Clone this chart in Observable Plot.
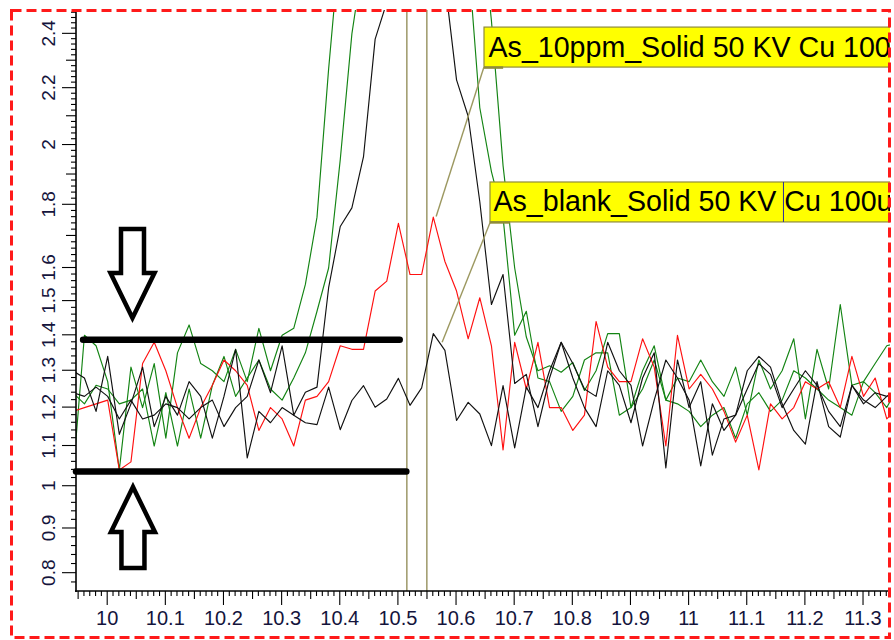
<!DOCTYPE html>
<html><head><meta charset="utf-8">
<script src="https://cdn.jsdelivr.net/npm/d3@7"></script>
<script src="https://cdn.jsdelivr.net/npm/@observablehq/plot@0.6"></script>
<style>body{margin:0;background:#fff}</style>
</head><body>
<script>
// ---- data (energy in keV, counts scale) ----
const energyKeV = [9.94,9.96,9.98,10.00,10.02,10.04,10.06,10.08,10.10,10.12,10.14,10.16,10.18,10.20,10.22,10.24,10.26,10.28,10.30,10.32,10.34,10.36,10.38,10.40,10.42,10.44,10.46,10.48,10.50,10.52,10.54,10.56,10.58,10.60,10.62,10.64,10.66,10.68,10.70,10.72,10.74,10.76,10.78,10.80,10.82,10.84,10.86,10.88,10.90,10.92,10.94,10.96,10.98,11.00,11.02,11.04,11.06,11.08,11.10,11.12,11.14,11.16,11.18,11.20,11.22,11.24,11.26,11.28,11.30,11.32,11.34,11.36];

const redSeries = [1.19,1.20,1.21,1.22,1.04,1.06,1.32,1.38,1.30,1.20,
1.12,1.20,1.26,1.33,1.30,1.26,1.14,1.20,1.17,1.10,
1.22,1.23,1.27,1.37,1.36,1.36,1.53,1.56,1.74,1.58,
1.58,1.76,1.62,1.53,1.39,1.51,1.37,1.09,1.38,1.25,
1.38,1.20,1.20,1.14,1.18,1.44,1.31,1.27,1.27,1.39,
1.31,1.10,1.40,1.25,1.29,1.25,1.19,1.11,1.18,1.04,
1.21,1.17,1.20,1.27,1.25,1.27,1.20,1.34,1.23,1.28,
1.17,1.20];

const blackBlank = [1.30,1.28,1.19,1.34,1.13,1.21,1.31,1.15,1.23,1.18,
1.27,1.23,1.12,1.23,1.36,1.07,1.19,1.16,1.20,1.18,
1.16,1.155,1.255,1.142,1.219,1.259,1.201,1.223,1.279,1.206,
1.253,1.405,1.357,1.166,1.214,1.183,1.101,1.259,1.095,1.255,
1.20,1.30,1.38,1.28,1.20,1.15,1.30,1.26,1.16,1.28,
1.35,1.045,1.33,1.20,1.27,1.077,1.17,1.18,1.30,1.34,
1.31,1.21,1.14,1.105,1.27,1.15,1.123,1.26,1.22,1.20,
1.23,1.25];

const blackPeak = [1.24,1.23,1.255,1.23,1.17,1.22,1.17,1.18,1.21,1.20,
1.17,1.20,1.22,1.15,1.20,1.23,1.33,1.24,1.37,1.18,
1.241,1.255,1.54,1.73,1.79,1.96,2.38,2.52,3.5,4.5,
4.8,4.0,2.6,2.23,2.10,1.81,1.49,1.58,1.265,1.29,
1.15,1.28,1.38,1.32,1.25,1.23,1.38,1.30,1.26,1.10,
1.22,1.33,1.28,1.22,1.05,1.21,1.14,1.18,1.25,1.32,
1.29,1.20,1.25,1.30,1.26,1.19,1.15,1.26,1.21,1.24,
1.23,1.25];

const greenA = [1.02,1.40,1.37,1.27,1.04,1.31,1.20,1.32,1.12,1.35,
1.43,1.32,1.30,1.27,1.36,1.27,1.42,1.30,1.40,1.42,
1.55,1.76,2.27,2.77,4.0,6.0,8.0,9.5,10.5,11,
10.5,9,7,5,2.7,2.13,1.91,1.76,1.40,1.47,
1.28,1.27,1.19,1.23,1.33,1.35,1.35,1.18,1.20,1.30,
1.37,1.22,1.28,1.27,1.33,1.27,1.23,1.31,1.18,1.33,
1.25,1.30,1.39,1.17,1.36,1.25,1.49,1.26,1.27,1.32,
1.37,1.38];

const greenB = [1.24,1.21,1.26,1.25,1.21,1.22,1.25,1.10,1.24,1.10,
1.25,1.12,1.26,1.34,1.23,1.28,1.33,1.25,1.22,1.28,
1.35,1.47,1.60,1.95,2.40,2.7,5,7,9,10,
10,9,7,5,3.8,2.9,2.45,1.93,1.60,1.395,
1.30,1.314,1.296,1.323,1.246,1.30,1.405,1.405,1.20,1.25,
1.33,1.22,1.21,1.19,1.15,1.18,1.20,1.12,1.21,1.24,
1.19,1.22,1.30,1.28,1.25,1.22,1.20,1.18,1.27,1.24,
1.20,1.26];

const xTickLabels = [10, 10.1, 10.2, 10.3, 10.4, 10.5, 10.6, 10.7, 10.8, 10.9, 11, 11.1, 11.2, 11.3];
const yTickLabels = [0.8, 0.9, 1, 1.1, 1.2, 1.3, 1.4, 1.5, 1.6, 1.8, 2, 2.2, 2.4];
const yMidTicks = [1.7, 1.9, 2.1, 2.3];

// annotations (data coordinates)
const roiMarkers = [10.5145, 10.5489];
const levelBars = [{y: 1.387, x1: 9.9585, x2: 10.5031}, {y: 1.036, x1: 9.9463, x2: 10.5145}];
const arrowTips = [{x: 10.0435, y: 1.4487, dir: "down"}, {x: 10.0443, y: 0.997, dir: "up"}];
const labelBoxes = [
  {label: "As_10ppm_Solid 50 KV Cu 100um", x1: 10.6481, x2: 11.5, y1: 2.2748, y2: 2.4236, tx: 10.655, ty: 2.3128, tabEnd: 10.681},
  {label: "As_blank_Solid 50 KV Cu 100um", x1: 10.6584, x2: 11.5, y1: 1.7430, y2: 1.8734, tx: 10.6635, ty: 1.7793, tabEnd: 10.693}
];
const connectors = [
  {x1: 10.5649, y1: 1.762, x2: 10.6470, y2: 2.2761},
  {x1: 10.5752, y1: 1.3802, x2: 10.6584, y2: 1.7461}
];
const caret = [{x: 11.1623, y1: 1.743, y2: 1.8734}];

const seriesList = [
  {name: "green B", values: greenB, color: "#138413"},
  {name: "green A", values: greenA, color: "#138413"},
  {name: "red", values: redSeries, color: "#ff1010"},
  {name: "black peak", values: blackPeak, color: "#111"},
  {name: "black blank", values: blackBlank, color: "#111"}
];

const FONT = "Liberation Sans, Arial, sans-serif";

function axesMark(index, scales, values, dims) {
  const x = scales.x, y = scales.y;
  const L = dims.marginLeft, T = dims.marginTop;
  const R = dims.width - dims.marginRight, B = dims.height - dims.marginBottom;
  const g = d3.create("svg:g");
  const ln = (x1, y1, x2, y2, w = 1.1) => g.append("line")
    .attr("x1", x1).attr("y1", y1).attr("x2", x2).attr("y2", y2)
    .attr("stroke", "#000").attr("stroke-width", w);
  const yMinor = d3.range(0.76, 2.49, 0.02).map(v => +v.toFixed(2))
    .filter(v => !yTickLabels.includes(v) && !yMidTicks.includes(v));
  for (const v of yMinor) { const p = y(v); if (p >= T && p <= B) ln(L - 5, p, L, p); }
  for (const v of yMidTicks) ln(L - 10, y(v), L, y(v));
  for (const v of yTickLabels) {
    ln(L - 14, y(v), L, y(v));
    g.append("text").attr("transform", `translate(${L - 21},${y(v)}) rotate(-90)`)
      .attr("text-anchor", "middle").attr("font-family", FONT).attr("font-size", 19)
      .attr("fill", "#14143c").text(String(v));
  }
  const xMinor = d3.range(9.95, 11.355, 0.01).map(v => +v.toFixed(2))
    .filter(v => !xTickLabels.includes(v));
  for (const v of xMinor) {
    const p = x(v); if (p < L || p > R) continue;
    const mid = Math.round(v * 100) % 5 === 0;
    ln(p, B, p, B + (mid ? 8 : 5));
  }
  for (const v of xTickLabels) {
    ln(x(v), B, x(v), B + 14);
    g.append("text").attr("x", x(v)).attr("y", B + 34).attr("text-anchor", "middle")
      .attr("font-family", FONT).attr("font-size", 20).attr("fill", "#14143c").text(String(v));
  }
  ln(L, T, L, B + 1, 1.6);
  ln(L - 1, B, R, B, 1.6);
  return g.node();
}

function arrowsMark(index, scales, values, dims) {
  const g = d3.create("svg:g");
  for (const a of arrowTips) {
    const tx = scales.x(a.x), ty = scales.y(a.y);
    const len = a.dir === "down" ? 89 : 81;
    const shape = [[0, 0], [-22, 45], [-11.5, 45], [-11.5, len], [11.5, len], [11.5, 45], [22, 45]];
    const pp = shape.map(([dx, dy]) => [tx + dx, ty + (a.dir === "down" ? -dy : dy)]);
    g.append("polygon").attr("points", pp.map(p => p.join(",")).join(" "))
      .attr("fill", "#fff").attr("stroke", "#000").attr("stroke-width", 4.5)
      .attr("stroke-linejoin", "miter");
  }
  return g.node();
}

function frameMark(index, scales, values, dims) {
  return d3.create("svg:rect").attr("x", 11.5).attr("y", 10.5)
    .attr("width", dims.width - 11.5 - 4.5).attr("height", dims.height - 10.5 - 2.5)
    .attr("fill", "none").attr("stroke", "#ff1a1a").attr("stroke-width", 3)
    .attr("stroke-dasharray", "10,5").node();
}

const chart = Plot.plot({
  width: 894,
  height: 640,
  marginLeft: 76,
  marginRight: 4,
  marginTop: 10,
  marginBottom: 49,
  style: {background: "#fff", fontFamily: FONT, overflow: "hidden"},
  x: {domain: [9.94634, 11.3464], range: [76, 890], axis: null},
  y: {type: "sqrt", domain: [0.7607, 2.4886], range: [591, 10], axis: null},
  marks: [
    Plot.ruleX(roiMarkers, {x: d => d, stroke: "#a39f72", strokeWidth: 1.6}),
    ...seriesList.map(s => Plot.line(energyKeV.map((e, i) => ({e, v: s.values[i]})),
      {x: "e", y: "v", stroke: s.color, strokeWidth: 1.15, clip: true})),
    Plot.ruleY(levelBars, {y: "y", x1: "x1", x2: "x2", stroke: "#000", strokeWidth: 6.5, strokeLinecap: "round"}),
    Plot.link(connectors, {x1: "x1", y1: "y1", x2: "x2", y2: "y2", stroke: "#9c9860", strokeWidth: 1.4}),
    Plot.rect(labelBoxes, {x1: "x1", x2: "x2", y1: "y1", y2: "y2", fill: "#ffff00", stroke: "#8f8b3a", strokeWidth: 1.2, clip: true}),
    Plot.ruleY(labelBoxes, {y: "y1", x1: "x1", x2: "tabEnd", stroke: "#8f8b3a", strokeWidth: 2.5}),
    Plot.text(labelBoxes, {x: "tx", y: "ty", text: "label", textAnchor: "start", lineAnchor: "bottom", fontSize: 28.6, fontFamily: FONT, fill: "#000", clip: true}),
    Plot.ruleX(caret, {x: "x", y1: "y1", y2: "y2", stroke: "#2a2aa0", strokeWidth: 1}),
    arrowsMark,
    axesMark,
    frameMark
  ]
});
document.body.appendChild(chart);
</script>
</body></html>
